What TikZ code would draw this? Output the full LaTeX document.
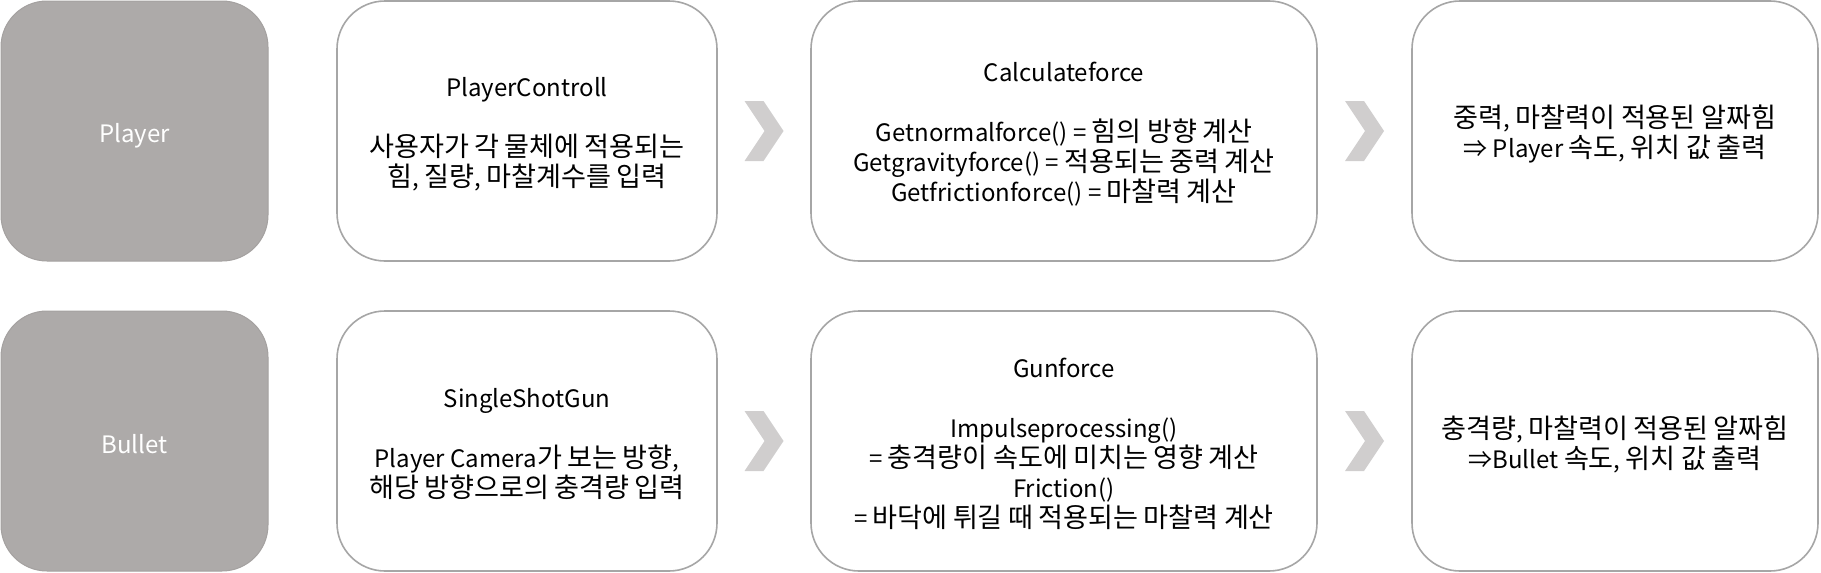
\documentclass[tikz,border=0pt]{standalone}
\usepackage{fontspec}
\setmainfont{Noto Sans CJK KR}
\newfontfamily\latfont{Noto Sans CJK KR}
\newfontfamily\kofont{Noto Sans CJK KR}[Scale=1.13]
\XeTeXinterchartokenstate=1
\newXeTeXintercharclass\hanclass
\count255="AC00
\loop \XeTeXcharclass\count255=\hanclass \advance\count255 by 1 \ifnum\count255<"D7A4 \repeat
\XeTeXinterchartoks 0 \hanclass = {\kofont}
\XeTeXinterchartoks 4095 \hanclass = {\kofont}
\XeTeXinterchartoks \hanclass 0 = {\latfont}
\XeTeXinterchartoks \hanclass 4095 = {\latfont}
\definecolor{headfill}{HTML}{ADAAA9}
\definecolor{headline}{HTML}{A4A1A0}
\definecolor{boxline}{HTML}{A6A6A6}
\definecolor{chevfill}{HTML}{D0CECE}
\usetikzlibrary{calc}
\tikzset{
  headbox/.style={rectangle, rounded corners=46pt, fill=headfill, draw=headline, line width=1pt,
    minimum width=267pt, minimum height=260pt, inner sep=0pt},
  stagebox/.style={rectangle, rounded corners=48pt, fill=white, draw=boxline, line width=1.6pt,
    minimum height=260pt, inner sep=0pt},
  headtext/.style={inner sep=0pt, text=white, align=center, font=\fontsize{24}{30}\selectfont},
  stagetext/.style={inner sep=0pt, text=black, align=center, font=\fontsize{24}{30}\selectfont},
  chevshape/.style={fill=chevfill, draw=none}
}
\newcommand{\chevat}[1]{%
  \fill[chevshape] ($(#1)+(-19.5,-30)$) -- ($(#1)+(-0.5,-30)$) -- ($(#1)+(19.5,0)$) --
    ($(#1)+(-0.5,30)$) -- ($(#1)+(-19.5,30)$) -- ($(#1)+(0.5,0)$) -- cycle;}
\begin{document}
\begin{tikzpicture}[x=1pt,y=-1pt]
\useasboundingbox (0,0) rectangle (1821,573);
% row 1 boxes
\node[headbox] (h1) at (134.5,131) {};
\node[stagebox, minimum width=380pt] (a1) at (527,131) {};
\node[stagebox, minimum width=506pt] (b1) at (1064,131) {};
\node[stagebox, minimum width=406pt] (c1) at (1615,131) {};
% row 2 boxes
\node[headbox] (h2) at (134.5,441) {};
\node[stagebox, minimum width=380pt] (a2) at (527,441) {};
\node[stagebox, minimum width=506pt] (b2) at (1064,441) {};
\node[stagebox, minimum width=406pt] (c2) at (1615,441) {};
% texts
\node[headtext] (th1) at ([yshift=-5pt]h1.center) {Player};
\node[stagetext] (ta1) at ([yshift=-3pt]a1.center)
  {PlayerControll\\[30pt]사용자가 각 물체에 적용되는\\힘, 질량, 마찰계수를 입력};
\node[stagetext] (tb1) at ([yshift=-3pt]b1.center)
  {Calculateforce\\[30pt]Getnormalforce() = 힘의 방향 계산\\Getgravityforce() = 적용되는 중력 계산\\Getfrictionforce() = 마찰력 계산};
\node[stagetext] (tc1) at ([yshift=-3pt]c1.center)
  {중력, 마찰력이 적용된 알짜힘\\⇒ Player 속도, 위치 값 출력};
\node[headtext] (th2) at ([yshift=-3pt]h2.center) {Bullet};
\node[stagetext] (ta2) at ([yshift=-3pt]a2.center)
  {SingleShotGun\\[30pt]Player Camera가 보는 방향,\\해당 방향으로의 충격량 입력};
\node[stagetext] (tb2) at ([yshift=-3pt]b2.center)
  {Gunforce\\[30pt]Impulseprocessing()\\= 충격량이 속도에 미치는 영향 계산\\Friction()\\= 바닥에 튀길 때 적용되는 마찰력 계산};
\node[stagetext] (tc2) at ([yshift=-3pt]c2.center)
  {충격량, 마찰력이 적용된 알짜힘\\⇒Bullet 속도, 위치 값 출력};
% chevrons between stages
\path (a1.east) -- (b1.west) coordinate[pos=0.5] (m1);
\path (b1.east) -- (c1.west) coordinate[pos=0.5] (m2);
\path (a2.east) -- (b2.west) coordinate[pos=0.5] (m3);
\path (b2.east) -- (c2.west) coordinate[pos=0.5] (m4);
\chevat{m1}
\chevat{m2}
\chevat{m3}
\chevat{m4}
\end{tikzpicture}
\end{document}
